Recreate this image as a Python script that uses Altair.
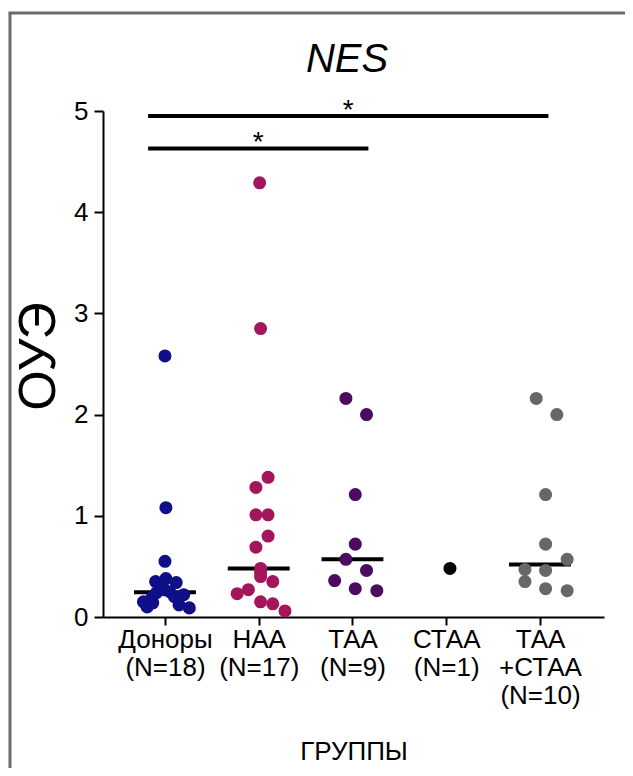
import altair as alt
import pandas as pd

# ---------------- data ----------------
groups = ["Доноры", "НАА", "ТАА", "СТАА", "ТАА+СТАА"]
tick_labels = [
    ["Доноры", "(N=18)"],
    ["НАА", "(N=17)"],
    ["ТАА", "(N=9)"],
    ["СТАА", "(N=1)"],
    ["ТАА", "+СТАА", "(N=10)"],
]
colors = ["#0f0f88", "#a3165b", "#4b0b5e", "#000000", "#676767"]

donors_vals = [2.58, 1.08, 0.55, 0.38, 0.35, 0.34, 0.30, 0.27, 0.25, 0.24,
               0.22, 0.20, 0.19, 0.15, 0.14, 0.12, 0.10, 0.09]
donors_jit = [0.0, 0.01, 0.0, 0.01, -0.10, 0.12, -0.03, -0.01, 0.05, -0.09,
              0.20, 0.10, -0.14, -0.23, -0.13, 0.15, -0.19, 0.26]

naa_vals = [4.29, 2.85, 1.38, 1.28, 1.01, 1.01, 0.80, 0.69, 0.48, 0.44,
            0.40, 0.35, 0.27, 0.23, 0.15, 0.13, 0.06]
naa_jit = [0.01, 0.02, 0.10, -0.03, -0.03, 0.10, 0.10, -0.03, 0.02, 0.02,
           0.02, 0.15, -0.11, -0.23, 0.02, 0.15, 0.28]

taa_vals = [2.16, 2.00, 1.21, 0.72, 0.57, 0.46, 0.36, 0.28, 0.26]
taa_jit = [-0.07, 0.15, 0.03, 0.03, -0.07, 0.15, -0.19, 0.03, 0.26]

staa_vals = [0.48]
staa_jit = [0.04]

both_vals = [2.16, 2.00, 1.21, 0.72, 0.57, 0.47, 0.46, 0.35, 0.28, 0.26]
both_jit = [-0.04, 0.18, 0.06, 0.06, 0.29, -0.16, 0.06, -0.16, 0.06, 0.29]

# significance brackets
sig_start = [-0.18, -0.18]
sig_end = [4.09, 2.17]
sig_level = [4.95, 4.63]
sig_text = ["*", "*"]

# ---------------- tables ----------------
all_vals = [donors_vals, naa_vals, taa_vals, staa_vals, both_vals]
all_jit = [donors_jit, naa_jit, taa_jit, staa_jit, both_jit]
rows = []
for i, (g, vals, jit) in enumerate(zip(groups, all_vals, all_jit)):
    for v, j in zip(vals, jit):
        rows.append({"group": g, "xpos": i + j, "value": v})
df = pd.DataFrame(rows)

med = df.groupby("group", sort=False)["value"].agg(["median", "count"]).reset_index()
med = med[med["count"] > 1].copy()
med["idx"] = med["group"].map(groups.index)
med["xpos"] = med["idx"] - 0.33
med["x2"] = med["idx"] + 0.33
med = med.rename(columns={"median": "value"})

sig = pd.DataFrame({"xpos": sig_start, "x2": sig_end, "value": sig_level, "t": sig_text})
sig["xm"] = (sig["xpos"] + sig["x2"]) / 2

# label expression for multi-line category labels
parts = []
for i, lab in enumerate(tick_labels):
    arr = "[" + ",".join("'" + s + "'" for s in lab) + "]"
    parts.append(f"datum.value == {i} ? {arr} : ")
label_expr = "".join(parts) + "''"

FONT = "Liberation Sans"
xscale = alt.Scale(domain=[-0.661, 4.683], nice=False, zero=False)
yscale = alt.Scale(domain=[0, 5], nice=False)

x_axis = alt.Axis(
    values=[0, 1, 2, 3, 4], labelExpr=label_expr, title="ГРУППЫ",
    labelFontSize=26, labelLineHeight=28, labelBaseline="top", labelPadding=1,
    labelFlush=False, labelOverlap=False,
    tickSize=8, tickWidth=2, tickColor="black", domainColor="black", domainWidth=2,
    titleFontSize=26, titleFontWeight="normal", titlePadding=30,
    labelColor="black", titleColor="black", grid=False,
)
y_axis = alt.Axis(
    values=[0, 1, 2, 3, 4, 5], title="ОУЭ", labelFontSize=26, labelPadding=6,
    tickSize=9, tickWidth=2, tickColor="black", domainColor="black", domainWidth=2,
    titleFontSize=52, titleFontWeight="normal", titlePadding=8, titleY=245,
    labelColor="black", titleColor="black", grid=False, labelFlush=False,
)

X = alt.X("xpos:Q", scale=xscale, axis=x_axis)
Y = alt.Y("value:Q", scale=yscale, axis=y_axis)

points = alt.Chart(df).mark_circle(size=170, opacity=1).encode(
    x=X, y=Y,
    color=alt.Color("group:N", scale=alt.Scale(domain=groups, range=colors), legend=None),
)

medians = alt.Chart(med).mark_rule(color="black", strokeWidth=4).encode(
    x=X, x2="x2:Q", y=Y,
)

sig_bars = alt.Chart(sig).mark_rule(color="black", strokeWidth=4).encode(
    x=X, x2="x2:Q", y=Y,
)
sig_stars = alt.Chart(sig).mark_text(fontSize=28, font=FONT, baseline="alphabetic", dy=3, color="black").encode(
    x=alt.X("xm:Q", scale=xscale, axis=x_axis),
    y=Y,
    text="t:N",
)

title = alt.Chart(pd.DataFrame({"t": ["NES"]})).mark_text(
    fontSize=40, font=FONT, fontStyle="italic", baseline="alphabetic", align="center", color="black"
).encode(x=alt.value(244), y=alt.value(-39), text="t:N")

frame_left = alt.Chart(pd.DataFrame({"a": [0]})).mark_rule(color="#6b6b6b", strokeWidth=3).encode(
    x=alt.value(-93), y=alt.value(-98), y2=alt.value(800)
)
frame_top = alt.Chart(pd.DataFrame({"a": [0]})).mark_rule(color="#6b6b6b", strokeWidth=3).encode(
    x=alt.value(-94.5), x2=alt.value(800), y=alt.value(-98)
)

chart = alt.layer(frame_left, frame_top, title, sig_bars, sig_stars, medians, points).properties(
    width=501, height=506,
    autosize=alt.AutoSizeParams(type="none"),
    padding={"left": 95, "top": 103, "right": 21, "bottom": 151},
).configure(font=FONT).configure_view(stroke=None)

chart.save("out.html", embed_options={"renderer": "svg", "actions": False})
